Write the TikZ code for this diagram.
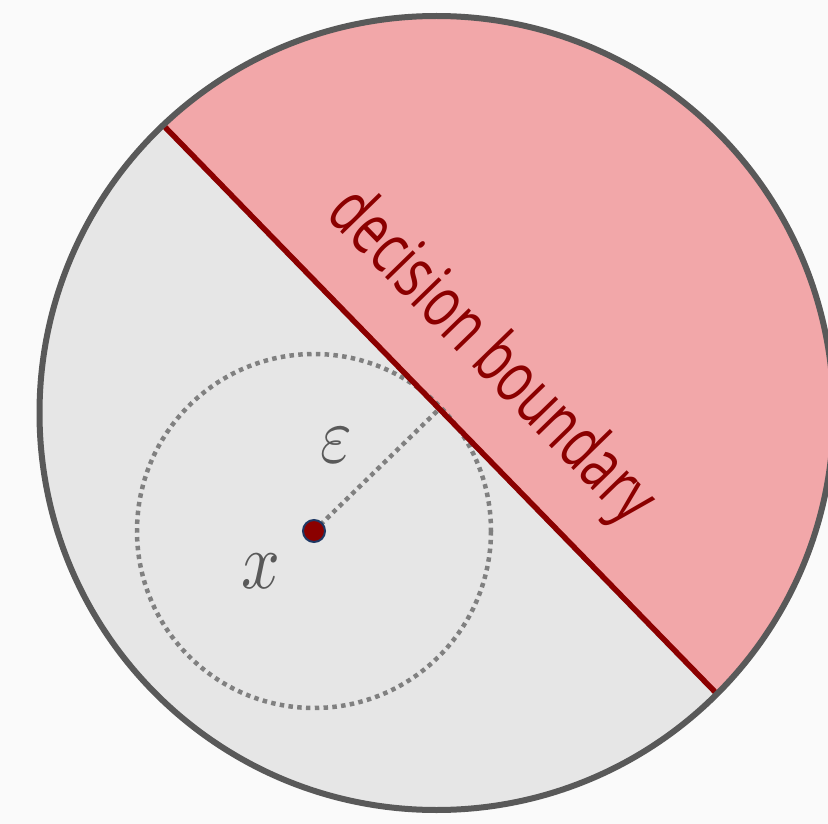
\documentclass[tikz,border=0pt]{standalone}
\usepackage{fontspec}
\usetikzlibrary{calc}
\newfontfamily\condfont{Open Sans}[FakeStretch=0.7]
\definecolor{bgc}{HTML}{FAFAFA}
\definecolor{lgray}{HTML}{E6E6E6}
\definecolor{pinkc}{HTML}{F2A7A9}
\definecolor{dred}{HTML}{8B0000}
\definecolor{rimc}{HTML}{595959}
\definecolor{dotc}{HTML}{808080}
\definecolor{navyc}{HTML}{1F3864}
\tikzset{
  rim/.style={draw=rimc, line width=6pt},
  boundaryline/.style={draw=dred, line width=5.5pt},
  dotline/.style={draw=dotc, line width=4.5pt, dash pattern=on 4.5pt off 4.3pt},
  sym/.style={text=rimc, inner sep=0pt},
}
\begin{document}
\begin{tikzpicture}[x=1pt,y=-1pt]
\useasboundingbox (0,0) rectangle (828,824);
\clip (0,0) rectangle (828,824);
\fill[bgc] (0,0) rectangle (828,824);
\coordinate (c) at (436.5,413);
\coordinate (b1) at (162,124);
\coordinate (b2) at (718,695);
\coordinate (p) at (314,531);
\coordinate (foot) at (439.4,408.8);
% disc
\fill[lgray] (c) circle (397);
\begin{scope}
  \clip (c) circle (397);
  \fill[pinkc] ($(b1)!-1!(b2)$) -- ($(b2)!-1!(b1)$) -- (1600,-600) -- cycle;
\end{scope}
% epsilon ball
\draw[dotline] (p) circle (177);
\draw[dotline] (p) -- (foot);
% boundary
\draw[boundaryline] (b1) -- (b2);
% outer rim
\draw[rim] (c) circle (397);
% point
\node[circle, fill=dred, draw=navyc, line width=2pt, minimum size=22pt, inner sep=0pt] (pt) at (p) {};
\node[sym] (eps) at (336,445) {\scalebox{6.8}[8]{$\varepsilon$}};
\node[sym] (xl) at (261,571) {\scalebox{6.8}[8]{$x$}};
\node[text=dred, font=\condfont\fontsize{72}{80}\selectfont, rotate=-45.77] (lbl) at (490,358) {decision boundary};
\end{tikzpicture}
\end{document}
